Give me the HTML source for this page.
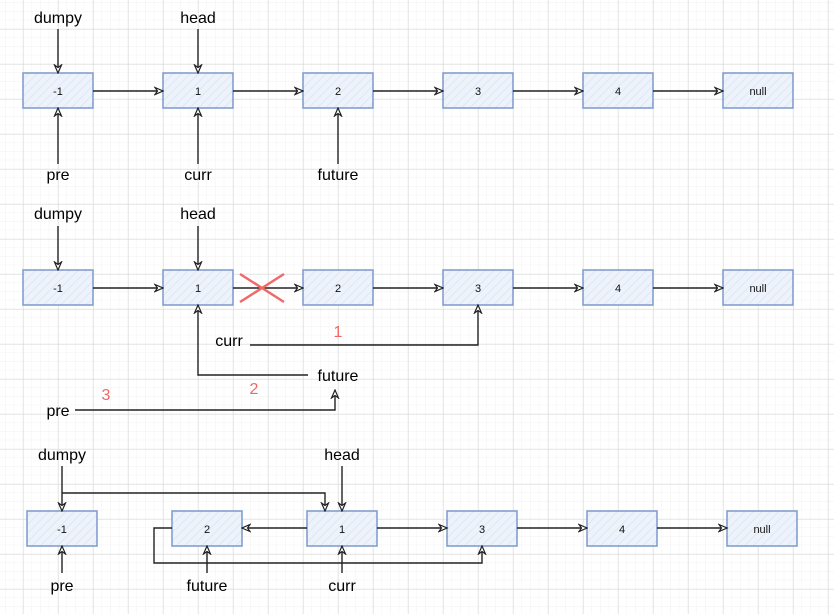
<!DOCTYPE html>
<html><head><meta charset="utf-8"><style>
html,body{margin:0;padding:0;background:#fff;}
svg{display:block;}
text{font-family:"Liberation Sans",Arial,sans-serif;}
</style></head><body>
<svg width="834" height="614" viewBox="0 0 834 614" xmlns="http://www.w3.org/2000/svg">
<defs>
<pattern id="minor" x="23" y="29" width="8.75" height="8.75" patternUnits="userSpaceOnUse">
<path d="M8.75 0V8.75M0 8.75H8.75" stroke="#f2f2f2" stroke-width="1" fill="none"/>
</pattern>
<pattern id="major" x="23" y="29" width="35" height="35" patternUnits="userSpaceOnUse">
<path d="M0 0V35M0 0H35" stroke="#d6d6d6" stroke-width="1" fill="none"/>
</pattern>
<pattern id="hatch" width="6" height="6" patternUnits="userSpaceOnUse" patternTransform="rotate(45)">
<rect width="6" height="6" fill="#eef3fb"/>
<line x1="0" y1="0" x2="0" y2="6" stroke="#dde7f6" stroke-width="2"/>
</pattern>
<marker id="ar" markerWidth="10" markerHeight="10" refX="9" refY="5" orient="auto" markerUnits="userSpaceOnUse">
<path d="M1 1.5L9 5L1 8.5L3.5 5Z" fill="#fff" stroke="#222" stroke-width="1.2"/>
</marker>
</defs>
<rect width="834" height="614" fill="#fff"/>
<rect width="834" height="614" fill="url(#minor)"/>
<rect width="834" height="614" fill="url(#major)"/>

<g fill="url(#hatch)" stroke="#7c9acb" stroke-width="1.5">
<rect x="23" y="73" width="70" height="35"/><rect x="163" y="73" width="70" height="35"/><rect x="303" y="73" width="70" height="35"/><rect x="443" y="73" width="70" height="35"/><rect x="583" y="73" width="70" height="35"/><rect x="723" y="73" width="70" height="35"/>
<rect x="23" y="270" width="70" height="35"/><rect x="163" y="270" width="70" height="35"/><rect x="303" y="270" width="70" height="35"/><rect x="443" y="270" width="70" height="35"/><rect x="583" y="270" width="70" height="35"/><rect x="723" y="270" width="70" height="35"/>
<rect x="27" y="511" width="70" height="35"/><rect x="172" y="511" width="70" height="35"/><rect x="307" y="511" width="70" height="35"/><rect x="447" y="511" width="70" height="35"/><rect x="587" y="511" width="70" height="35"/><rect x="727" y="511" width="70" height="35"/>
</g>

<g font-size="11" fill="#111" text-anchor="middle">
<text x="58" y="95">-1</text><text x="198" y="95">1</text><text x="338" y="95">2</text><text x="478" y="95">3</text><text x="618" y="95">4</text><text x="758" y="95">null</text>
<text x="58" y="292">-1</text><text x="198" y="292">1</text><text x="338" y="292">2</text><text x="478" y="292">3</text><text x="618" y="292">4</text><text x="758" y="292">null</text>
<text x="62" y="533">-1</text><text x="207" y="533">2</text><text x="342" y="533">1</text><text x="482" y="533">3</text><text x="622" y="533">4</text><text x="762" y="533">null</text>
</g>

<g font-size="16" fill="#000" text-anchor="middle">
<text x="58" y="23">dumpy</text><text x="198" y="23">head</text>
<text x="58" y="180">pre</text><text x="198" y="180">curr</text><text x="338" y="180">future</text>
<text x="58" y="219">dumpy</text><text x="198" y="219">head</text>
<text x="229" y="346">curr</text><text x="338" y="381">future</text><text x="58" y="416">pre</text>
<text x="62" y="460">dumpy</text><text x="342" y="460">head</text>
<text x="62" y="591">pre</text><text x="207" y="591">future</text><text x="342" y="591">curr</text>
</g>
<g font-size="16" fill="#f06666" text-anchor="middle">
<text x="338" y="337">1</text><text x="254" y="394">2</text><text x="106" y="400">3</text>
</g>

<g stroke="#222" stroke-width="1.4" fill="none" marker-end="url(#ar)">
<!-- row 1 -->
<path d="M58 29V73"/><path d="M198 29V73"/>
<path d="M58 164V108"/><path d="M198 164V108"/><path d="M338 164V108"/>
<path d="M93 91H163"/><path d="M233 91H303"/><path d="M373 91H443"/><path d="M513 91H583"/><path d="M653 91H723"/>
<!-- row 2 -->
<path d="M58 226V270"/><path d="M198 226V270"/>
<path d="M93 288H163"/><path d="M233 288H303"/><path d="M373 288H443"/><path d="M513 288H583"/><path d="M653 288H723"/>
<path d="M250 345H478V305"/>
<path d="M308 375H198V305"/>
<path d="M75 410H335V390"/>
<!-- row 3 -->
<path d="M62 466V511"/><path d="M62 493H325V511"/><path d="M342 466V511"/>
<path d="M307 528H242"/><path d="M377 528H447"/><path d="M517 528H587"/><path d="M657 528H727"/>
<path d="M172 528H154V563H482V546"/>
<path d="M62 573V546"/><path d="M207 573V546"/><path d="M342 573V546"/>
</g>
<g stroke="#f06a6a" stroke-width="2.5">
<line x1="240" y1="274" x2="284" y2="302"/><line x1="240" y1="302" x2="284" y2="274"/>
</g>
</svg>
</body></html>
